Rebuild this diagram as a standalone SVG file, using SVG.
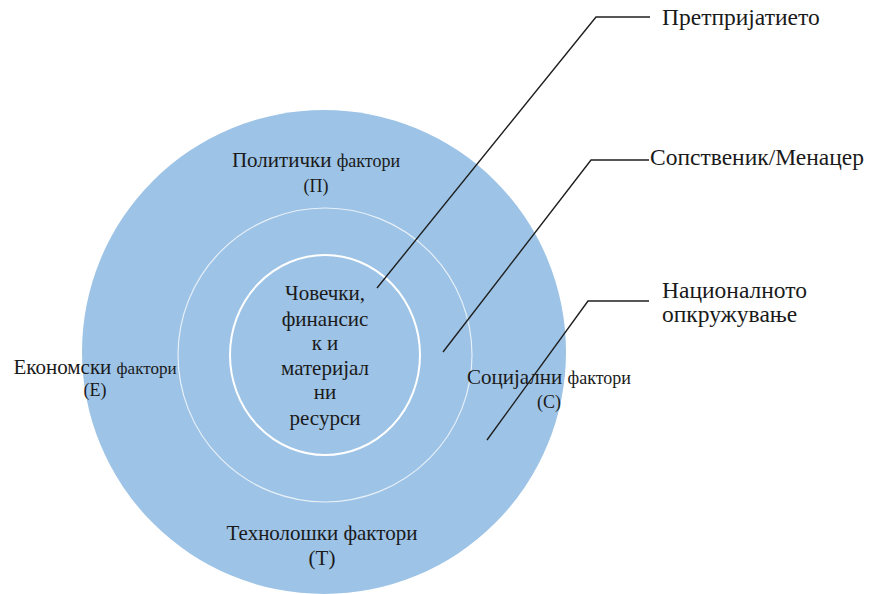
<svg xmlns="http://www.w3.org/2000/svg" width="873" height="594" viewBox="0 0 873 594">
<style>
text{font-family:"Liberation Serif","Times New Roman",serif;fill:#1a1a1a}
.c{text-anchor:middle}
.conn{fill:none;stroke:#1f1f1f;stroke-width:1.4}
.ring{fill:none;stroke:#ffffff}
</style>
<rect width="873" height="594" fill="#ffffff"/>
<g id="environment">
<circle cx="324" cy="352" r="242" fill="#9dc3e6"/>
</g>
<g id="owner-ring">
<circle class="ring" cx="325" cy="355" r="147" stroke-width="1.2" stroke-opacity="0.75"/>
</g>
<g id="enterprise-core">
<ellipse class="ring" cx="325" cy="355" rx="95" ry="100" stroke-width="2"/>
<text class="c" font-size="21"><tspan x="325" y="300">Човечки,</tspan><tspan x="325" y="326">финансис</tspan><tspan x="325" y="350">к и</tspan><tspan x="325" y="375">материјал</tspan><tspan x="325" y="399">ни</tspan><tspan x="325" y="425">ресурси</tspan></text>
</g>
<g id="political">
<text class="c" x="316" y="167"><tspan font-size="21">Политички </tspan><tspan font-size="18">фактори</tspan></text>
<text class="c" x="316" y="192" font-size="18">(П)</text>
</g>
<g id="economic">
<text class="c" x="95" y="374"><tspan font-size="21">Економски </tspan><tspan font-size="17">фактори</tspan></text>
<text class="c" x="95" y="396" font-size="18">(Е)</text>
</g>
<g id="social">
<text class="c" x="549" y="384"><tspan font-size="21">Социјални </tspan><tspan font-size="18">фактори</tspan></text>
<text class="c" x="549" y="408" font-size="18">(С)</text>
</g>
<g id="technological">
<text class="c" x="322" y="540" font-size="21">Технолошки фактори</text>
<text class="c" x="322" y="565" font-size="21">(Т)</text>
</g>
<g id="connectors">
<polyline class="conn" points="377,288 596,17 650,17"/>
<polyline class="conn" points="443,352 591,160 649,160"/>
<polyline class="conn" points="487,440 588,301 649,301"/>
</g>
<g id="label-enterprise">
<text x="662" y="25" font-size="23.5">Претпријатието</text>
</g>
<g id="label-owner">
<text x="650" y="165" font-size="23.5">Сопственик/Менацер</text>
</g>
<g id="label-national">
<text font-size="23.5"><tspan x="662" y="298">Националното</tspan><tspan x="662" y="322">опкружување</tspan></text>
</g>
</svg>
